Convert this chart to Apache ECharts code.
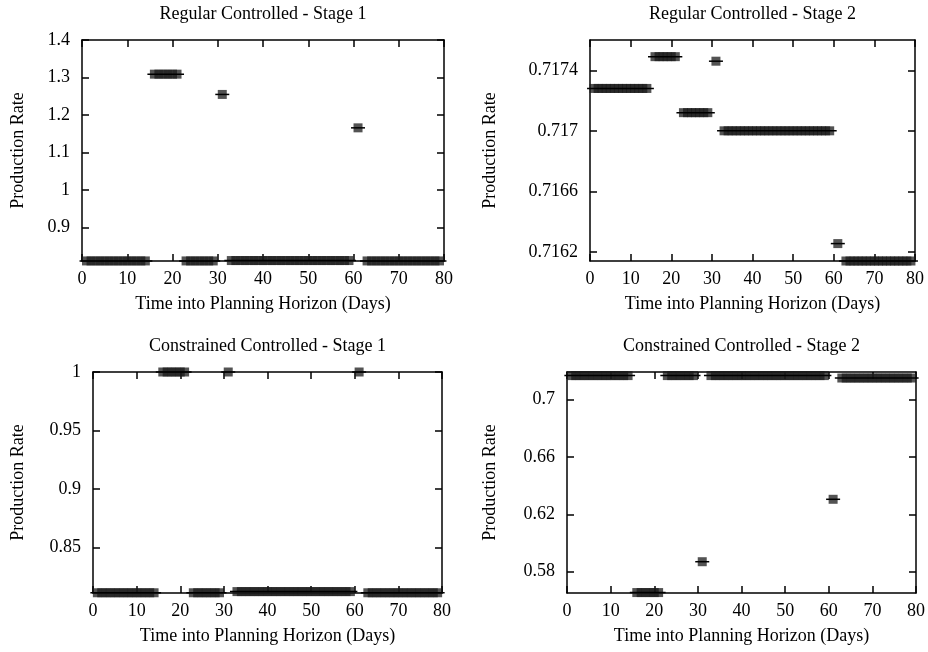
<!DOCTYPE html>
<html>
<head>
<meta charset="utf-8">
<script src="https://cdn.jsdelivr.net/npm/echarts@6/dist/echarts.min.js"></script>
<style>
  html, body { margin: 0; padding: 0; background: #fff; }
  #chart { width: 928px; height: 652px; }
</style>
</head>
<body>
<div id="chart"></div>
<script>
// runs of days with the same production rate (same day ranges in every panel)
const segStart = [1, 16, 23, 31, 33, 61, 63]
const segEnd = [14, 21, 29, 31, 59, 61, 79]

// production rate of each run, per panel
const regStage1 = [0.8115, 1.309, 0.8115, 1.255, 0.8125, 1.166, 0.8115]
const regStage2 = [0.71728, 0.71749, 0.71712, 0.71746, 0.717, 0.716255, 0.71614]
const conStage1 = [0.8115, 1.0, 0.8115, 1.0, 0.8125, 1.0, 0.8115]
const conStage2 = [0.7167, 0.5655, 0.7167, 0.587, 0.7167, 0.6305, 0.715]

// tick labels
const xTicks = [0, 10, 20, 30, 40, 50, 60, 70, 80]
const regS1Ticks = [0.9, 1, 1.1, 1.2, 1.3, 1.4]
const regS2Ticks = [0.7162, 0.7166, 0.717, 0.7174]
const conS1Ticks = [0.85, 0.9, 0.95, 1]
const conS2Ticks = [0.58, 0.62, 0.66, 0.7]

const FONT = 'Liberation Serif'
const textcolor = '#000'

const panels = [
  { title: 'Regular Controlled - Stage 1', values: regStage1, ticks: regS1Ticks,
    min: 0.8113, max: 1.4, left: 82, top: 40, width: 362, nameGap: 55 },
  { title: 'Regular Controlled - Stage 2', values: regStage2, ticks: regS2Ticks,
    min: 0.71614, max: 0.7176, left: 590, top: 40, width: 325, nameGap: 91 },
  { title: 'Constrained Controlled - Stage 1', values: conStage1, ticks: conS1Ticks,
    min: 0.8113, max: 1.0, left: 93, top: 372, width: 349, nameGap: 66 },
  { title: 'Constrained Controlled - Stage 2', values: conStage2, ticks: conS2Ticks,
    min: 0.5652, max: 0.7192, left: 567, top: 372, width: 349, nameGap: 68 },
]

const lineStyle = { color: textcolor, width: 1.5 }

let title = [], grid = [], xAxis = [], yAxis = [], series = []

panels.forEach((p, i) => {
  title.push({
    text: p.title,
    left: p.left + p.width / 2,
    top: p.top - 35,
    padding: 0,
    textAlign: 'center',
    textStyle: { fontFamily: FONT, fontSize: 18, fontWeight: 'normal', color: textcolor },
  })
  grid.push({ left: p.left, top: p.top, width: p.width, height: 221 })

  // bottom axis + mirrored top axis
  xAxis.push({
    gridIndex: i,
    type: 'value',
    min: 0,
    max: 80,
    interval: 10,
    name: 'Time into Planning Horizon (Days)',
    nameLocation: 'middle',
    nameGap: 34,
    nameTextStyle: { fontFamily: FONT, fontSize: 18, color: textcolor },
    axisLine: { show: true, onZero: false, lineStyle },
    axisTick: { inside: true, length: 7, lineStyle },
    axisLabel: { customValues: xTicks, margin: 9, fontFamily: FONT, fontSize: 18, color: textcolor },
    splitLine: { show: false },
  })
  xAxis.push({
    gridIndex: i,
    type: 'value',
    position: 'top',
    min: 0,
    max: 80,
    interval: 10,
    axisLine: { show: true, onZero: false, lineStyle },
    axisTick: { inside: true, length: 7, lineStyle },
    axisLabel: { show: false },
    splitLine: { show: false },
  })

  // left axis + mirrored right axis
  yAxis.push({
    gridIndex: i,
    type: 'value',
    min: p.min,
    max: p.max,
    name: 'Production Rate',
    nameLocation: 'middle',
    nameGap: p.nameGap,
    nameTextStyle: { fontFamily: FONT, fontSize: 18, color: textcolor },
    axisLine: { show: true, onZero: false, lineStyle },
    axisTick: { inside: true, length: 7, customValues: p.ticks, lineStyle },
    axisLabel: { customValues: p.ticks, margin: 12, fontFamily: FONT, fontSize: 18, color: textcolor },
    splitLine: { show: false },
  })
  yAxis.push({
    gridIndex: i,
    type: 'value',
    position: 'right',
    min: p.min,
    max: p.max,
    axisLine: { show: true, onZero: false, lineStyle },
    axisTick: { inside: true, length: 7, customValues: p.ticks, lineStyle },
    axisLabel: { show: false },
    splitLine: { show: false },
  })

  series.push({
    type: 'custom',
    xAxisIndex: i * 2,
    yAxisIndex: i * 2,
    clip: false,
    encode: { x: [0, 1], y: 2 },
    data: segStart.map((s, k) => [s, segEnd[k], p.values[k]]),
    renderItem: (params, api) => {
      const s = api.value(0), e = api.value(1), v = api.value(2)
      const children = []
      // one square marker per day of the run
      for (let d = s; d <= e; d++) {
        const c = api.coord([d, v])
        children.push({
          type: 'rect',
          shape: { x: c[0] - 4.5, y: c[1] - 4.5, width: 9, height: 9 },
          style: { fill: 'rgba(25,25,25,0.75)' },
        })
      }
      const a = api.coord([s, v]), b = api.coord([e, v])
      children.push({
        type: 'line',
        shape: { x1: a[0] - 7, y1: a[1], x2: b[0] + 7, y2: b[1] },
        style: { stroke: '#000', lineWidth: 1.5 },
      })
      return { type: 'group', children }
    },
  })
})

let myChart = echarts.init(document.getElementById('chart'))
myChart.setOption({
  animation: false,
  backgroundColor: '#fff',
  title,
  grid,
  xAxis,
  yAxis,
  series,
})
</script>
</body>
</html>
